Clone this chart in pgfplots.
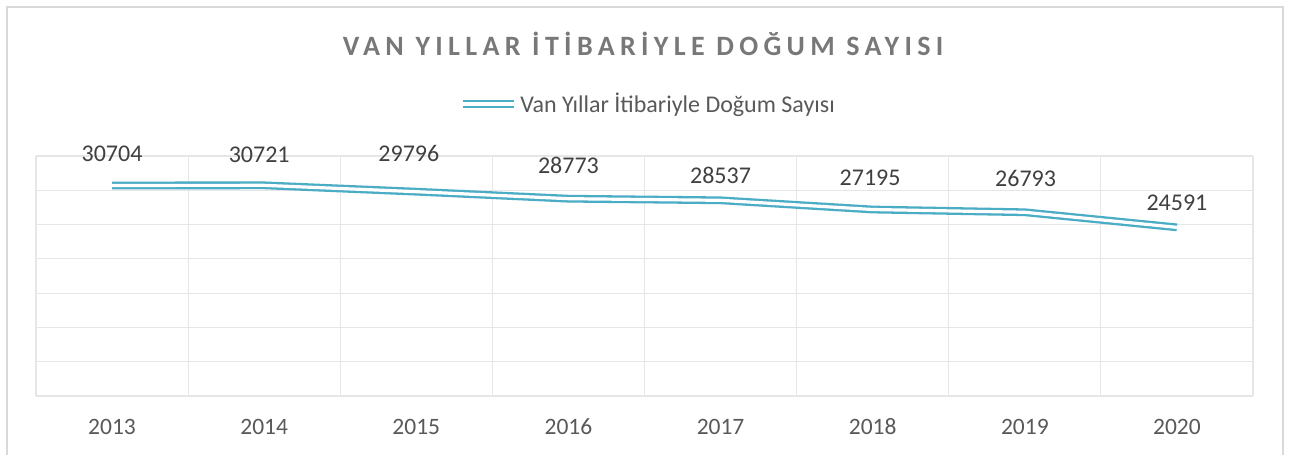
\documentclass[border=0pt]{standalone}
\usepackage{fontspec}
\setmainfont{Carlito}
\newfontfamily\titlefont[LetterSpace=19]{Carlito}
\usepackage{pgfplots}
\usepackage{pgfplotstable}
\pgfplotsset{compat=1.18}
\definecolor{linec}{HTML}{4BACC6}
\definecolor{gridc}{HTML}{E6E6E6}
\definecolor{labc}{HTML}{404040}
\definecolor{tickc}{HTML}{595959}
\definecolor{titlec}{HTML}{787878}
\definecolor{framec}{HTML}{D9D9D9}

\pgfplotstableread{
x year y dx dy
0 2013 30704 0 24.5
1 2014 30721 -5 23
2 2015 29796 -7.5 30.7
3 2016 28773 0 25.4
4 2017 28537 0 17.3
5 2018 27195 -2.6 23.8
6 2019 26793 0.8 25.6
7 2020 24591 0 17.4
}\births

\begin{document}
\begin{tikzpicture}[x=1bp,y=1bp]
\path[use as bounding box] (0,0) rectangle (1290,455);
\draw[framec, line width=2bp] (7,-20) -- (7,448) -- (1283,448) -- (1283,-20);
\node[anchor=base, text=titlec, inner sep=0pt, font=\titlefont\bfseries\fontsize{28bp}{31bp}\selectfont] at (643,399) {VAN YILLAR İTİBARİYLE DOĞUM SAYISI};
\begin{axis}[
  at={(36bp,59bp)}, anchor=south west,
  scale only axis, width=1217bp, height=240bp,
  xmin=-0.5, xmax=7.5, ymin=0, ymax=35000,
  scaled y ticks=false,
  xtick={0,...,7},
  xticklabels={2013,2014,2015,2016,2017,2018,2019,2020},
  minor xtick={-0.5,0.5,...,7.5},
  ytick={0,5000,...,35000},
  yticklabels={},
  xminorgrids, ymajorgrids,
  grid style={gridc, line width=1.2bp},
  minor grid style={gridc, line width=1.2bp},
  axis line style={draw=none},
  tick style={draw=none},
  major tick length=0pt, minor tick length=0pt,
  xticklabel style={anchor=base, yshift=-39bp, text=tickc, font=\fontsize{23.5bp}{27bp}\selectfont},
  clip=false,
  legend style={at={(0.503,1.217)}, anchor=center, draw=none, fill=none,
    text=tickc, font=\fontsize{24bp}{28bp}\selectfont},
  legend image code/.code={\draw[#1] (0bp,0bp) -- (51bp,0bp);},
]
\addplot[linec, line width=2.3bp, double=white, double distance=3.2bp, mark=none]
  table[x=x, y=y] {\births};
\addlegendentry{Van Yıllar İtibariyle Doğum Sayısı}
\addplot[draw=none, mark=none, forget plot,
  visualization depends on={\thisrow{dx}\as\dx},
  visualization depends on={\thisrow{dy}\as\dy},
  point meta=explicit symbolic,
  nodes near coords,
  every node near coord/.append style={anchor=base, xshift=\dx, yshift=\dy,
    text=labc, font=\fontsize{24bp}{28bp}\selectfont}]
  table[x=x, y=y, meta=y] {\births};
\end{axis}
\end{tikzpicture}
\end{document}
